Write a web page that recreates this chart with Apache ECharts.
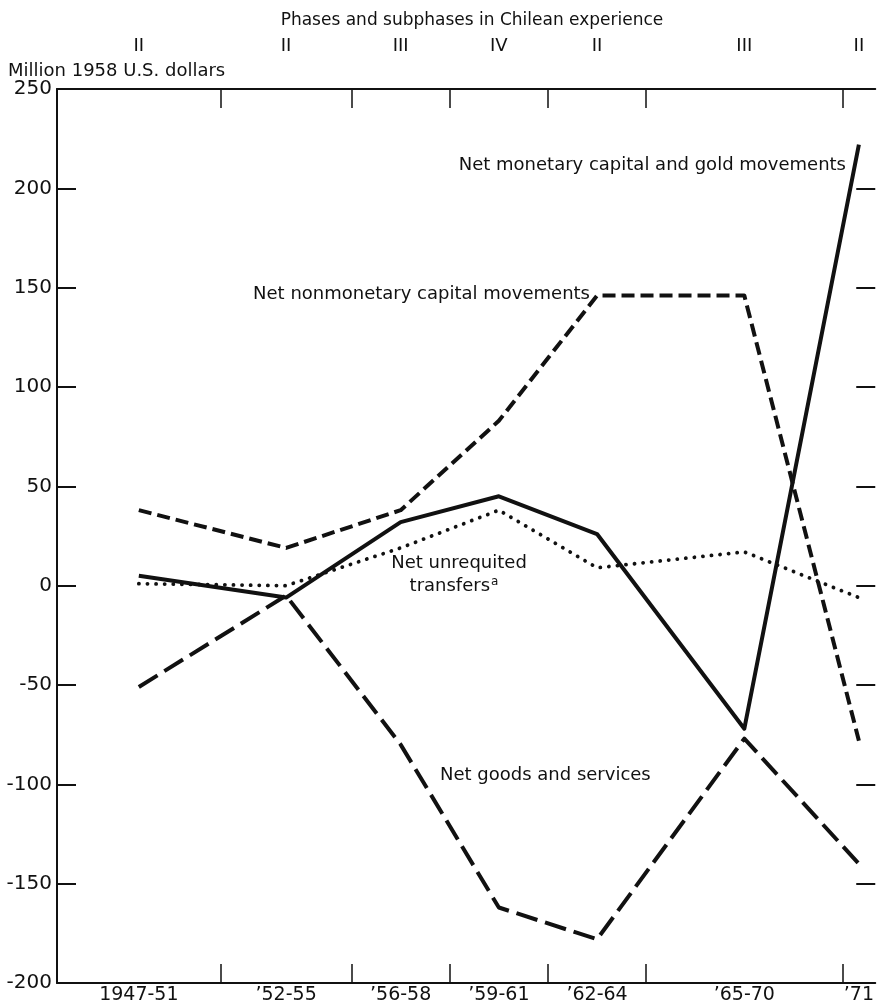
<!DOCTYPE html>
<html><head><meta charset="utf-8">
<script src="https://cdn.jsdelivr.net/npm/echarts@6/dist/echarts.min.js"></script>
<style>html,body{margin:0;padding:0;background:#fff}#c{width:877px;height:1005px}</style>
</head><body><div id="c"></div>
<script>
const periods = ['1947-51', '\u201952-55', '\u201956-58', '\u201959-61', '\u201962-64', '\u201965-70', '\u201971'];
const periodStart = [1947, 1952, 1956, 1959, 1962, 1965, 1971];
const periodEnd = [1952, 1956, 1959, 1962, 1965, 1971, 1972];
const phases = ['II', 'II', 'III', 'IV', 'II', 'III', 'II'];
const goodsServices = [-51, -5, -80, -162, -178, -77, -140];
const unrequitedTransfers = [1, 0, 19, 38, 9, 17, -6];
const nonmonetaryCapital = [38, 19, 38, 83, 146, 146, -78];
const monetaryCapitalGold = [5, -6, 32, 45, 26, -72, 222];
const yTickValues = [-200, -150, -100, -50, 0, 50, 100, 150, 200, 250];

const mids = periodStart.map((s, i) => (s + periodEnd[i]) / 2);
const boundaries = periodStart.slice(1);
const toPts = arr => arr.map((v, i) => [mids[i], v]);
const idxOf = v => mids.findIndex(m => Math.abs(m - v) < 1e-6);

const FONT = 'DejaVu Sans';
const INK = '#111';

const chart = echarts.init(document.getElementById('c'), null, {renderer: 'canvas'});
const xCommon = {
  type: 'value', min: 1947, max: 1972,
  splitLine: {show: false},
  axisLine: {show: true, onZero: false, lineStyle: {color: INK, width: 2}},
  axisTick: {show: true, inside: true, length: 19, customValues: boundaries, lineStyle: {color: INK, width: 1.5}},
};
chart.setOption({
  animation: false,
  backgroundColor: '#fff',
  grid: {left: 57, right: 0, top: 89, bottom: 22, containLabel: false},
  title: {
    text: 'Phases and subphases in Chilean experience',
    left: 467, top: 7, textAlign: 'center',
    textStyle: {fontFamily: FONT, fontSize: 17, fontWeight: 'normal', color: INK}
  },
  xAxis: [
    Object.assign({}, xCommon, {
      position: 'bottom',
      axisLabel: {
        customValues: mids, margin: 3, fontFamily: FONT, fontSize: 19, color: INK,
        formatter: v => periods[idxOf(v)] || ''
      }
    }),
    Object.assign({}, xCommon, {
      position: 'top',
      axisLabel: {
        customValues: mids, margin: 34, fontFamily: FONT, fontSize: 18, color: INK,
        formatter: v => phases[idxOf(v)] || ''
      }
    })
  ],
  yAxis: [
    {
      type: 'value', min: -200, max: 250, interval: 50, position: 'left',
      splitLine: {show: false},
      axisLine: {show: true, onZero: false, lineStyle: {color: INK, width: 2}},
      axisTick: {show: true, inside: true, length: 19, lineStyle: {color: INK, width: 2}},
      axisLabel: {margin: 5, fontFamily: FONT, fontSize: 20, color: INK,
        formatter: v => yTickValues.indexOf(v) >= 0 ? String(v) : ''}
    },
    {
      type: 'value', min: -200, max: 250, interval: 50, position: 'right',
      splitLine: {show: false},
      axisLine: {show: false, onZero: false},
      axisTick: {show: true, inside: true, length: 19, lineStyle: {color: INK, width: 2}},
      axisLabel: {show: false}
    }
  ],
  series: [
    {
      name: 'Net goods and services', type: 'line', data: toPts(goodsServices),
      symbol: 'none', lineStyle: {color: INK, width: 4, type: [22, 8], cap: 'butt', join: 'round'}
    },
    {
      name: 'Net unrequited transfers', type: 'line', data: toPts(unrequitedTransfers),
      symbol: 'none', lineStyle: {color: INK, width: 3.8, type: [0.1, 8.5], cap: 'round'}
    },
    {
      name: 'Net nonmonetary capital movements', type: 'line', data: toPts(nonmonetaryCapital),
      symbol: 'none', lineStyle: {color: INK, width: 4, type: [13, 6], cap: 'butt', join: 'round'}
    },
    {
      name: 'Net monetary capital and gold movements', type: 'line', data: toPts(monetaryCapitalGold),
      symbol: 'none', lineStyle: {color: INK, width: 4, join: 'round'}
    }
  ],
  graphic: [
    {type: 'text', left: 8, top: 62, style: {text: 'Million 1958 U.S. dollars', font: '18px "DejaVu Sans"', fill: INK}},
    {type: 'text', x: 846, y: 165, style: {text: 'Net monetary capital and gold movements', font: '18px "DejaVu Sans"', fill: INK, textAlign: 'right', textVerticalAlign: 'middle'}},
    {type: 'text', x: 590, y: 294, style: {text: 'Net nonmonetary capital movements', font: '18px "DejaVu Sans"', fill: INK, textAlign: 'right', textVerticalAlign: 'middle'}},
    {type: 'text', x: 459, y: 563, style: {text: 'Net unrequited', font: '18px "DejaVu Sans"', fill: INK, textAlign: 'center', textVerticalAlign: 'middle'}},
    {type: 'text', x: 454, y: 586, style: {
      text: '{t|transfers}{s|a}', textAlign: 'center', textVerticalAlign: 'middle', fill: INK,
      rich: {t: {fontFamily: FONT, fontSize: 18, fill: INK}, s: {fontFamily: FONT, fontSize: 12, fill: INK, verticalAlign: 'top', padding: [0, 0, 9, 1]}}
    }},
    {type: 'text', x: 440, y: 775, style: {text: 'Net goods and services', font: '18px "DejaVu Sans"', fill: INK, textAlign: 'left', textVerticalAlign: 'middle'}}
  ]
});
</script></body></html>
